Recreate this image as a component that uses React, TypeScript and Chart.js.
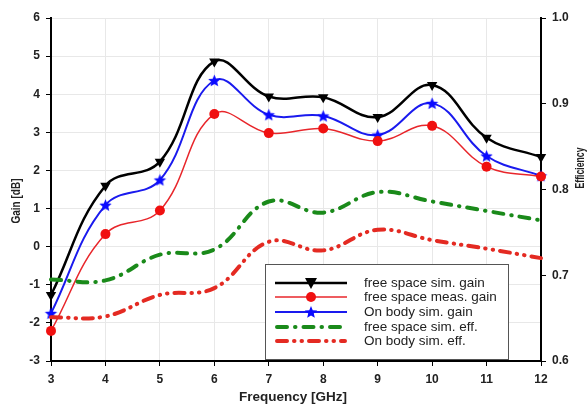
import React, { useEffect, useRef } from 'react';
import { Chart, registerables } from 'chart.js';
Chart.register(...registerables);

const freq = [3, 4, 5, 6, 7, 8, 9, 10, 11, 12];
const fsSimGain = [-1.27, 1.6, 2.23, 4.86, 3.94, 3.92, 3.4, 4.24, 2.86, 2.35];
const fsMeasGain = [-2.21, 0.33, 0.95, 3.48, 2.98, 3.1, 2.77, 3.17, 2.1, 1.84];
const obSimGain = [-1.75, 1.09, 1.75, 4.36, 3.46, 3.43, 2.93, 3.76, 2.38, 1.86];
const fsSimEff = [0.695, 0.694, 0.724, 0.73, 0.786, 0.773, 0.797, 0.786, 0.775, 0.764];
const obSimEff = [0.651, 0.652, 0.677, 0.685, 0.739, 0.729, 0.753, 0.741, 0.731, 0.72];

const legendLabels = [
  'free space sim. gain',
  'free space meas. gain',
  'On body sim. gain',
  'free space sim. eff.',
  'On body sim. eff.',
];
const xTitle = 'Frequency [GHz]';
const yTitle = 'Gain [dB]';
const y2Title = 'Efficiency';

const FONT = '"Liberation Sans", Arial, sans-serif';

function starPath(ctx: CanvasRenderingContext2D, cx: number, cy: number, r: number) {
  ctx.beginPath();
  for (let i = 0; i < 10; i++) {
    const rad = i % 2 === 0 ? r : r * 0.45;
    const a = -Math.PI / 2 + (i * Math.PI) / 5;
    const x = cx + rad * Math.cos(a);
    const y = cy + rad * Math.sin(a);
    if (i === 0) ctx.moveTo(x, y);
    else ctx.lineTo(x, y);
  }
  ctx.closePath();
}

function makeStar(color: string, r: number) {
  const size = Math.ceil(r * 2 + 2);
  const c = document.createElement('canvas');
  c.width = size;
  c.height = size;
  const ctx = c.getContext('2d')!;
  starPath(ctx, size / 2, size / 2 + 0.5, r);
  ctx.fillStyle = color;
  ctx.fill();
  return c;
}

const pts = (arr: number[]) => arr.map((v, i) => ({ x: freq[i], y: v }));

const greenDash = [10, 8, 0.5, 8];
const redDash = [10, 7, 0.5, 7, 0.5, 7];

function rotatedTitle(ctx: CanvasRenderingContext2D, text: string, x: number, y: number, size: number, len: number) {
  ctx.save();
  ctx.translate(x, y);
  ctx.rotate(-Math.PI / 2);
  ctx.font = `bold ${size}px ${FONT}`;
  const w = ctx.measureText(text).width;
  ctx.scale(len / w, 1);
  ctx.fillText(text, 0, 0);
  ctx.restore();
}

const overlayPlugin = {
  id: 'overlay',
  afterDraw(chart: any) {
    const ctx: CanvasRenderingContext2D = chart.ctx;
    ctx.save();
    ctx.fillStyle = '#222';
    ctx.textAlign = 'center';
    ctx.textBaseline = 'middle';
    ctx.font = `bold 13.5px ${FONT}`;
    ctx.fillText(xTitle, 293, 397);
    rotatedTitle(ctx, yTitle, 17, 201, 12.5, 45);
    rotatedTitle(ctx, y2Title, 581, 168, 12, 41);
    ctx.restore();

    // Legend box
    ctx.save();
    const bx = 265, by = 264, bw = 243, bh = 95;
    ctx.fillStyle = '#fff';
    ctx.fillRect(bx, by, bw, bh);
    ctx.strokeStyle = '#555';
    ctx.lineWidth = 1;
    ctx.strokeRect(bx + 0.5, by + 0.5, bw, bh);
    const rows = [283, 297, 312, 327, 341];
    const x1 = 275, x2 = 347, xm = 311;
    ctx.lineWidth = 2.5;
    ctx.strokeStyle = '#000';
    ctx.beginPath(); ctx.moveTo(x1, rows[0]); ctx.lineTo(x2, rows[0]); ctx.stroke();
    ctx.fillStyle = '#000';
    ctx.beginPath();
    ctx.moveTo(xm - 6, rows[0] - 5); ctx.lineTo(xm + 6, rows[0] - 5); ctx.lineTo(xm, rows[0] + 6); ctx.closePath(); ctx.fill();
    ctx.lineWidth = 1.5;
    ctx.strokeStyle = '#e8262b';
    ctx.beginPath(); ctx.moveTo(x1, rows[1]); ctx.lineTo(x2, rows[1]); ctx.stroke();
    ctx.fillStyle = '#f01010';
    ctx.beginPath(); ctx.arc(xm, rows[1], 5, 0, Math.PI * 2); ctx.fill();
    ctx.lineWidth = 2;
    ctx.strokeStyle = '#1a1aee';
    ctx.beginPath(); ctx.moveTo(x1, rows[2]); ctx.lineTo(x2, rows[2]); ctx.stroke();
    ctx.fillStyle = '#0a0aff';
    starPath(ctx, xm, rows[2] + 0.5, 6.5); ctx.fill();
    ctx.lineWidth = 4;
    ctx.lineCap = 'round';
    ctx.strokeStyle = '#1a8a1a';
    ctx.setLineDash(greenDash);
    ctx.beginPath(); ctx.moveTo(x1 + 2, rows[3]); ctx.lineTo(x2 - 2, rows[3]); ctx.stroke();
    ctx.strokeStyle = '#e42a22';
    ctx.setLineDash(redDash);
    ctx.beginPath(); ctx.moveTo(x1 + 2, rows[4]); ctx.lineTo(x2 - 2, rows[4]); ctx.stroke();
    ctx.setLineDash([]);
    ctx.fillStyle = '#222';
    ctx.font = `13.5px ${FONT}`;
    ctx.textAlign = 'left';
    ctx.textBaseline = 'middle';
    legendLabels.forEach((t, i) => ctx.fillText(t, 364, rows[i]));
    ctx.restore();
  },
};

export default function App() {
  const ref = useRef<HTMLCanvasElement>(null);
  useEffect(() => {
    const star = makeStar('#0a0aff', 6.5);
    const chart = new Chart(ref.current!, {
      type: 'line',
      data: {
        datasets: [
          {
            label: legendLabels[4],
            data: pts(obSimEff),
            yAxisID: 'y2',
            borderColor: '#e42a22',
            borderWidth: 4,
            borderDash: redDash,
            borderCapStyle: 'round',
            pointRadius: 0,
            tension: 0.4,
            clip: false,
          },
          {
            label: legendLabels[3],
            data: pts(fsSimEff),
            yAxisID: 'y2',
            borderColor: '#1a8a1a',
            borderWidth: 4,
            borderDash: greenDash,
            borderCapStyle: 'round',
            pointRadius: 0,
            tension: 0.4,
            clip: false,
          },
          {
            label: legendLabels[1],
            data: pts(fsMeasGain),
            yAxisID: 'y',
            borderColor: '#e8262b',
            borderWidth: 1.5,
            pointStyle: 'circle',
            pointRadius: 5,
            pointBackgroundColor: '#f01010',
            pointBorderColor: '#f01010',
            pointBorderWidth: 0,
            tension: 0.4,
            clip: false,
          },
          {
            label: legendLabels[2],
            data: pts(obSimGain),
            yAxisID: 'y',
            borderColor: '#1a1aee',
            borderWidth: 2,
            pointStyle: star as any,
            pointRadius: 6,
            tension: 0.4,
            clip: false,
          },
          {
            label: legendLabels[0],
            data: pts(fsSimGain),
            yAxisID: 'y',
            borderColor: '#000',
            borderWidth: 2.5,
            pointStyle: 'triangle',
            rotation: 180,
            pointRadius: 6,
            pointBackgroundColor: '#000',
            pointBorderColor: '#000',
            pointBorderWidth: 0,
            tension: 0.4,
            clip: false,
          },
        ],
      },
      options: {
        animation: false,
        responsive: false,
        events: [],
        layout: { padding: { top: 18, right: 0, bottom: 0, left: 0 } },
        plugins: { legend: { display: false }, tooltip: { enabled: false } },
        scales: {
          x: {
            type: 'linear',
            min: 3,
            max: 12,
            ticks: {
              stepSize: 1,
              color: '#222',
              font: { family: FONT, size: 12, weight: 'bold' },
              padding: 6,
            },
            grid: { color: '#e8e8e8', tickColor: '#000', tickLength: 5, lineWidth: 1 },
            border: { color: '#000', width: 2 },
            afterFit: (s: any) => { s.height = 43; },
          },
          y: {
            type: 'linear',
            position: 'left',
            min: -3,
            max: 6,
            ticks: {
              stepSize: 1,
              color: '#222',
              font: { family: FONT, size: 12, weight: 'bold' },
              padding: 6,
            },
            grid: { color: '#e8e8e8', tickColor: '#000', tickLength: 5 },
            border: { color: '#000', width: 2 },
            afterFit: (s: any) => { s.width = 51; },
          },
          y2: {
            type: 'linear',
            position: 'right',
            min: 0.6,
            max: 1.0,
            ticks: {
              stepSize: 0.1,
              color: '#222',
              font: { family: FONT, size: 12, weight: 'bold' },
              padding: 6,
              callback: (v: any) => Number(v).toFixed(1),
            },
            grid: { drawOnChartArea: false, tickColor: '#000', tickLength: 5 },
            border: { color: '#000', width: 2 },
            afterFit: (s: any) => { s.width = 47; },
          },
        },
      },
      plugins: [overlayPlugin],
    });
    return () => chart.destroy();
  }, []);
  return (
    <div style={{ position: 'absolute', left: 0, top: 0, width: 588, height: 404, background: '#fff' }}>
      <canvas ref={ref} width={588} height={404} />
    </div>
  );
}
